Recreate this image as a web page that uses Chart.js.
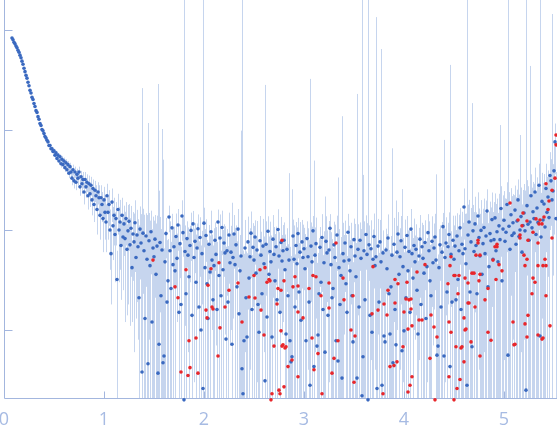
<!DOCTYPE html>
<html lang="en">
<head>
  <meta charset="UTF-8" />
  <title>Scattering curve</title>
  <script src="https://cdn.jsdelivr.net/npm/chart.js"></script>
  <style>
    body {
      margin: 0;
      background: #fff;
    }
    .wrap {
      width: 557px;
      height: 437px;
    }
  </style>
</head>
<body>
  <div class="wrap">
    <canvas id="curve" width="557" height="437"></canvas>
  </div>

  <script>
    // axis ticks
    const xTicks = [0, 1, 2, 3, 4, 5];
    const yTicks = [1, 10, 100, 1000];
    const xMax = 5.53;
    const yMin = 0.204;
    const yMax = 1995;

    // low q, smooth part
    const qGuinier = [0.08,0.09,0.10,0.11,0.12,0.13,0.14,0.15,0.16,0.17,
      0.18,0.19,0.20,0.21,0.22,0.23,0.24,0.25,0.26,0.27,
      0.28,0.29,0.30,0.31,0.32,0.33,0.34,0.35,0.36,0.37,0.38,0.39];
    const iGuinier = [832,800,752,727,690,664,628,600,560,528,
      488,455,414,383,352,330,300,277,249,234,
      212,202,184,172,156,150,136,128,116,111,101,98];
    const eGuinier = [14,12,10,9,9,8,8,8,7,7,
      7,6,6,6,6,5,5,5,5,4,
      4,4,4,4,3,3,3,3,3,3,3,3];

    // middle part
    const qMid = [0.40,0.41,0.42,0.43,0.44,0.45,0.46,0.47,0.48,0.49,
      0.50,0.51,0.52,0.53,0.54,0.55,0.56,0.57,0.58,0.59,
      0.60,0.61,0.62,0.63,0.64,0.65,0.66,0.67,0.68,0.69,
      0.70,0.71,0.72,0.73,0.74,0.75,0.76,0.77,0.78,0.79,
      0.80,0.81,0.82,0.83,0.84,0.85,0.86,0.87,0.88,0.89,
      0.90,0.91,0.92,0.93,0.94,0.95,0.96,0.97,0.98,0.99,
      1.00,1.01,1.02,1.03,1.04,1.05,1.06,1.07,1.08,1.09,
      1.10,1.11,1.12,1.13,1.14,1.15,1.16,1.17,1.18,1.19];
    const iMid = [92,86,83,79,76,70,70,65,65,61,
      62,56,59,52,56,49,54,46,51,45,
      49,42,47,40,45,37,43,38,33,40,
      31,38,30,36,33,38,27,34,29,32,
      24,32,27,30,22,29,23,28,20,26,
      18,25,22,16,24,21,14,21,18,13,
      20,15,12,22,15,18,10,5.8,19,11,
      14,9,13,3.2,16,10,12,7,14,8.5];
    const eMid = [2,2,2,2,2,2,3,3,3,3,
      3,3,3,3,3,3,3,4,4,4,
      4,4,4,4,4,4,4,5,5,5,
      5,5,5,5,5,5,5,5,6,6,
      6,6,6,6,6,6,6,6,6,6,
      6,6,6,7,6,7,6,7,6,7,
      7,7,6,7,7,7,6,4,7,6,
      7,6,6,3,7,7,8,5,7,6];

    // high q, noisy part
    const qTail = [1.20,1.21,1.22,1.23,1.24,1.25,1.26,1.27,1.28,1.29,
      1.30,1.31,1.32,1.33,1.34,1.35,1.36,1.37,1.38,1.39,
      1.40,1.41,1.42,1.43,1.44,1.45,1.46,1.47,1.48,1.49,
      1.50,1.51,1.52,1.53,1.54,1.55,1.56,1.57,1.58,1.59,
      1.60,1.61,1.62,1.63,1.64,1.65,1.66,1.67,1.68,1.69,
      1.70,1.71,1.72,1.73,1.74,1.75,1.76,1.77,1.78,1.79,
      1.80,1.81,1.82,1.83,1.84,1.85,1.86,1.87,1.88,1.89,
      1.90,1.91,1.92,1.93,1.94,1.95,1.96,1.97,1.98,1.99,
      2.00,2.01,2.02,2.03,2.04,2.05,2.06,2.07,2.08,2.09,
      2.10,2.11,2.12,2.13,2.14,2.15,2.16,2.17,2.18,2.19,
      2.20,2.21,2.22,2.23,2.24,2.25,2.26,2.27,2.28,2.29,
      2.30,2.31,2.32,2.33,2.34,2.35,2.36,2.37,2.38,2.39,
      2.40,2.41,2.42,2.43,2.44,2.45,2.46,2.47,2.48,2.49,
      2.50,2.51,2.52,2.53,2.54,2.55,2.56,2.57,2.58,2.59,
      2.60,2.61,2.62,2.63,2.64,2.65,2.66,2.67,2.68,2.69,
      2.70,2.71,2.72,2.73,2.74,2.75,2.76,2.77,2.78,2.79,
      2.80,2.81,2.82,2.83,2.84,2.85,2.86,2.87,2.88,2.89,
      2.90,2.91,2.92,2.93,2.94,2.95,2.96,2.97,2.98,2.99,
      3.00,3.01,3.02,3.03,3.04,3.05,3.06,3.07,3.08,3.09,
      3.10,3.11,3.12,3.13,3.14,3.15,3.16,3.17,3.18,3.19,
      3.20,3.21,3.22,3.23,3.24,3.25,3.26,3.27,3.28,3.29,
      3.30,3.31,3.32,3.33,3.34,3.35,3.36,3.37,3.38,3.39,
      3.40,3.41,3.42,3.43,3.44,3.45,3.46,3.47,3.48,3.49,
      3.50,3.51,3.52,3.53,3.54,3.55,3.56,3.57,3.58,3.59,
      3.60,3.61,3.62,3.63,3.64,3.65,3.66,3.67,3.68,3.69,
      3.70,3.71,3.72,3.73,3.74,3.75,3.76,3.77,3.78,3.79,
      3.80,3.81,3.82,3.83,3.84,3.85,3.86,3.87,3.88,3.89,
      3.90,3.91,3.92,3.93,3.94,3.95,3.96,3.97,3.98,3.99,
      4.00,4.01,4.02,4.03,4.04,4.05,4.06,4.07,4.08,4.09,
      4.10,4.11,4.12,4.13,4.14,4.15,4.16,4.17,4.18,4.19,
      4.20,4.21,4.22,4.23,4.24,4.25,4.26,4.27,4.28,4.29,
      4.30,4.31,4.32,4.33,4.34,4.35,4.36,4.37,4.38,4.39,
      4.40,4.41,4.42,4.43,4.44,4.45,4.46,4.47,4.48,4.49,
      4.50,4.51,4.52,4.53,4.54,4.55,4.56,4.57,4.58,4.59,
      4.60,4.61,4.62,4.63,4.64,4.65,4.66,4.67,4.68,4.69,
      4.70,4.71,4.72,4.73,4.74,4.75,4.76,4.77,4.78,4.79,
      4.80,4.81,4.82,4.83,4.84,4.85,4.86,4.87,4.88,4.89,
      4.90,4.91,4.92,4.93,4.94,4.95,4.96,4.97,4.98,4.99,
      5.00,5.01,5.02,5.03,5.04,5.05,5.06,5.07,5.08,5.09,
      5.10,5.11,5.12,5.13,5.14,5.15,5.16,5.17,5.18,5.19,
      5.20,5.21,5.22,5.23,5.24,5.25,5.26,5.27,5.28,5.29,
      5.30,5.31,5.32,5.33,5.34,5.35,5.36,5.37,5.38,5.39,
      5.40,5.41,5.42,5.43,5.44,5.45,5.46,5.47,5.48,5.49,
      5.50,5.51,5.52];
    const iTail = [11.5,8.2,13,6.4,9.8,12.2,7.1,10.4,4.2,9.1,
      7.6,11.8,5.3,8.9,6.8,2.1,10.2,7.4,0.38,9.3,
      6.2,1.3,8.7,5.1,0.46,7.8,4.4,9.6,1.2,6.6,
      5.4,8.1,3.6,6.9,0.37,0.72,7.5,2.2,6.3,0.47,
      0.55,4.8,9.2,1.9,3.1,13.5,6.2,2.6,10.5,4.5,
      6.8,3.9,8.6,5.2,11.2,1.5,7.3,1.8,13.8,9.4,
      0.2,6.1,2.3,8.2,5.6,3.4,7.0,9.9,1.4,11.5,
      5.3,7.7,3.0,6.6,10.3,1.7,8.4,1.0,5.8,0.26,
      11.7,4.2,8.8,2.9,1.3,7.2,3.8,9.6,5.0,2.0,
      4.4,7.9,5.7,1.6,12,3.5,8.3,2.2,10.6,4.0,
      7.4,5.9,0.81,6.2,1.9,8.9,4.7,6.0,0.72,5.3,
      9.1,4.5,7.1,2.7,10.2,1.45,3.9,5.5,0.41,0.23,
      0.78,6.6,2.1,0.85,7.6,3.3,5.4,9.3,1.6,6.7,
      5.0,8.5,3.7,6.3,1.8,0.95,7.8,5.6,2.3,6.9,
      4.6,0.31,7.2,1.35,9.7,3.6,6.1,4.8,0.85,8.1,
      5.7,3.1,6.8,2.0,10.1,5.5,1.5,7.5,4.9,6.2,
      7.9,4.0,0.91,6.4,2.2,5.0,0.78,0.48,0.54,8.7,
      5.1,1.7,7.0,4.6,9.2,2.4,6.0,1.25,7.6,5.3,
      6.5,4.1,0.78,8.2,5.4,1.9,0.28,6.9,4.8,9.8,
      0.43,5.6,7.3,0.69,0.89,2.3,6.7,3.0,8.4,1.6,
      4.7,0.60,7.7,5.9,1.4,6.3,10.4,4.5,2.1,2.6,
      7.1,5.3,0.78,8.9,0.49,4.2,1.8,3.5,0.33,5.8,
      4.9,7.4,2.9,1.5,9.5,5.0,3.9,6.8,2.2,0.76,
      8.0,5.5,3.4,0.33,6.4,1.7,7.9,5.2,0.22,0.54,
      6.2,2.0,9.0,5.7,0.2,7.1,1.4,6.5,0.95,5.1,
      8.6,4.4,5.4,0.26,6.9,1.9,7.6,4.8,0.28,5.9,
      0.87,0.76,6.3,4.1,8.3,2.3,0.91,2.7,5.6,0.47,
      7.2,1.6,0.71,6.0,9.1,3.6,5.4,7.8,0.62,4.3,
      0.98,6.7,2.1,8.8,3.9,6.1,1.5,10.2,5.8,3.3,
      7.0,4.8,6.4,2.5,0.91,5.5,8.1,1.8,6.8,5.2,
      3.7,7.5,1.3,4.3,9.4,6.2,3.1,2.2,7.7,4.7,
      6.6,8.5,5.0,0.56,0.69,4.2,7.1,1.7,6.0,10.8,
      0.55,5.3,7.4,2.4,6.8,9.0,0.43,5.7,1.9,7.9,
      5.1,6.9,2.0,8.7,3.2,6.2,10.5,1.6,7.2,5.8,
      17,6.5,4.6,0.28,8.9,12,2.4,7.6,0.68,9.8,
      6.1,11.5,7.0,2.3,13.8,8.4,5.5,9.9,3.6,7.3,
      10.6,5.8,8.7,15.5,2.7,4.3,9.2,7.8,12.7,5.1,
      8.0,13.2,6.2,9.6,4.8,11.0,8.0,16.4,3.1,10.2,
      12.5,7.7,9.5,18,0.56,10.9,6.4,14.2,8.8,11.8,
      9.3,15.8,7.2,12.3,20,8.6,10.0,13.6,6.0,11.1,
      14.8,9.8,0.25,17.5,11.4,7.9,12,22,10.5,15.2,
      13.0,24,9.0,16.6,11.9,28,0.87,8.5,19.3,12.6,
      18.2,10.7,26,15.0,21.4,13.3,35,31,20,24.5,
      39,76,13];
    const eTail = [6,7,6,5,8,6,6,7,3,6,
      7,8,4,7,6,9,7,7,262,7,
      8,7,6,9,117,7,8,6,9,7,
      7,6,8,7,288,24,6,8,96,50,
      6,5,4,6,5,4,6,5,4,6,
      4,5,6,4,5,6,4,5,6,4,
      3000,5,6,4,5,6,4,5,6,4,
      5,4,6,5,4,6,5,6,4,3000,
      5,6,4,5,6,4,5,6,4,5,
      6,4,5,6,4,5,6,4,5,6,
      4,5,6,4,5,6,4,5,18,4,
      5,6,4,5,6,4,5,93,3000,6,
      5,6,4,5,6,4,5,6,4,5,
      6,4,5,6,4,5,6,4,5,6,
      4,282,5,6,4,5,6,4,5,6,
      5,6,4,5,6,4,5,6,4,5,
      4,5,6,4,5,32,6,5,25,4,
      6,4,5,6,4,5,6,4,5,6,
      4,5,6,4,5,6,324,5,6,4,
      49,5,6,4,5,6,4,5,6,4,
      5,21,6,4,5,6,4,5,6,4,
      5,6,4,5,33,6,4,5,137,6,
      4,5,6,4,5,6,4,5,6,4,
      5,6,4,229,5,6,4,5,3000,35,
      6,4,5,6,3000,4,5,6,4,5,
      6,4,1340,5,6,4,5,640,6,4,
      5,6,4,5,6,4,5,6,60,5,
      6,4,19,5,6,4,5,6,25,4,
      5,6,4,5,6,4,5,6,4,5,
      6,4,5,6,4,5,6,4,5,6,
      4,5,6,4,5,6,4,5,6,4,
      5,6,31,4,5,6,4,5,6,4,
      79,5,6,4,5,6,447,4,5,6,
      6,7,8,6,7,8,6,7,8,6,
      9,8,10,3000,9,8,10,9,185,8,
      9,10,8,9,10,8,9,10,8,9,
      10,9,11,10,9,11,10,9,11,10,
      11,10,12,11,10,12,104,11,10,12,
      12,13,11,12,3000,13,11,12,13,11,
      13,12,14,13,12,14,79,13,12,14,
      14,15,3000,14,16,15,425,14,16,15,
      16,18,15,17,16,18,3000,15,18,17,
      18,17,20,19,18,21,25,20,1425,21,
      30,40,25];

    // red points
    const qRed = [1.49,1.71,1.74,1.77,1.82,1.84,1.85,1.86,1.92,1.94,
      2.02,2.03,2.04,2.07,2.08,2.09,2.14,2.15,2.16,2.21,
      2.25,2.34,2.38,2.45,2.50,2.51,2.56,2.57,2.60,2.61,
      2.63,2.65,2.66,2.67,2.68,2.70,2.73,2.74,2.75,2.76,
      2.77,2.77,2.78,2.78,2.79,2.80,2.80,2.81,2.82,2.84,
      2.88,2.89,2.91,2.94,2.94,2.94,2.99,3.05,3.08,3.09,
      3.10,3.12,3.14,3.17,3.18,3.25,3.25,3.28,3.30,3.32,
      3.34,3.39,3.40,3.47,3.49,3.50,3.51,3.68,3.69,3.74,
      3.79,3.80,3.83,3.84,3.86,3.90,3.91,3.91,3.93,3.94,
      3.99,4.00,4.02,4.03,4.04,4.04,4.05,4.06,4.07,4.07,
      4.08,4.08,4.13,4.15,4.18,4.21,4.26,4.27,4.30,4.31,
      4.33,4.44,4.45,4.45,4.46,4.47,4.47,4.50,4.50,4.51,
      4.52,4.53,4.54,4.55,4.56,4.57,4.58,4.60,4.60,4.61,
      4.61,4.62,4.64,4.64,4.65,4.67,4.68,4.70,4.71,4.72,
      4.74,4.74,4.75,4.76,4.76,4.76,4.81,4.84,4.84,4.87,
      4.89,4.91,4.92,4.93,4.93,4.95,4.98,5.06,5.09,5.10,
      5.11,5.14,5.16,5.16,5.18,5.19,5.20,5.21,5.21,5.23,
      5.23,5.23,5.24,5.24,5.28,5.29,5.29,5.31,5.32,5.34,
      5.34,5.34,5.35,5.36,5.38,5.38,5.39,5.39,5.40,5.41,
      5.42,5.42,5.42,5.44,5.45,5.46,5.48,5.48,5.51,5.52,
      5.52];
    const iRed = [5.0,2.7,2.1,0.38,4.0,0.35,0.78,0.42,0.83,0.37,
      1.58,1.32,2.8,4.1,1.7,1.62,0.55,4.7,1.05,1.7,
      2.5,2.95,1.2,2.14,3.5,2.09,4.0,1.58,0.89,4.2,
      3.0,3.2,3.1,0.2,0.23,0.69,1.82,2.6,0.25,0.23,
      0.98,2.5,0.69,7.9,0.71,3.1,0.27,0.66,0.68,0.43,
      0.5,2.7,3.4,2.75,1.51,0.34,1.32,2.6,0.83,3.5,
      0.4,3.4,0.58,2.2,0.23,2.95,1.66,0.37,0.52,7.4,
      0.78,3.3,2.0,1.0,2.2,0.3,0.87,1.45,4.3,1.58,
      0.23,1.82,1.41,2.5,0.43,0.44,3.2,1.86,0.48,2.9,
      0.68,1.51,2.04,3.0,0.24,1.02,2.0,0.28,2.04,1.62,
      0.34,1.1,3.8,1.26,1.26,4.5,0.52,1.41,1.07,0.2,
      0.85,2.9,0.34,1.2,4.4,0.95,5.4,0.2,3.5,3.5,
      0.68,0.26,2.3,3.5,0.32,0.66,0.68,0.48,1.32,1.0,
      3.3,1.02,1.86,2.95,1.86,0.76,3.7,3.7,1.7,5.6,
      7.9,7.4,3.1,0.55,5.6,3.6,2.0,0.95,2.6,0.79,
      5.0,6.8,3.2,6.8,7.2,4.5,3.9,18.6,1.2,0.71,
      0.72,12.6,8.9,8.3,11,14.8,5.6,4.4,1.15,12.3,
      5.1,0.85,1.4,7.9,2.3,9.5,3.3,3.0,12.9,0.89,
      4.4,7.4,11.5,12.6,11.5,0.81,0.83,4.4,13.5,5.1,
      29,2.2,4.4,16,19.5,1.1,25,8.3,33,89,
      71];

    const blueQ = [...qGuinier, ...qMid, ...qTail];
    const blueI = [...iGuinier, ...iMid, ...iTail];
    const blueE = [...eGuinier, ...eMid, ...eTail];

    const axisColor = '#a3b6de';
    const barColor = '#c6d5ee';

    // vertical error bars and the axis lines, through the chart scales
    const errorBars = {
      id: 'errorBars',
      beforeDatasetsDraw(chart) {
        const { ctx, chartArea: a, scales: { x, y } } = chart;
        ctx.save();
        ctx.beginPath();
        ctx.rect(a.left, a.top, a.right - a.left, a.bottom - a.top);
        ctx.clip();
        ctx.strokeStyle = barColor;
        ctx.lineWidth = 1;
        ctx.beginPath();
        blueQ.forEach((q, i) => {
          const px = Math.round(x.getPixelForValue(q)) + 0.5;
          const lo = blueI[i] - blueE[i];
          const top = y.getPixelForValue(blueI[i] + blueE[i]);
          const bot = lo > 0 ? y.getPixelForValue(lo) : a.bottom;
          ctx.moveTo(px, top);
          ctx.lineTo(px, bot);
        });
        ctx.stroke();
        ctx.restore();

        const left = Math.round(a.left) + 0.5;
        const bottom = Math.round(a.bottom) - 0.5;
        ctx.save();
        ctx.strokeStyle = axisColor;
        ctx.lineWidth = 1;
        ctx.beginPath();
        ctx.moveTo(left, a.top);
        ctx.lineTo(left, bottom);
        ctx.lineTo(a.right, bottom);
        yTicks.forEach(v => {
          const py = Math.round(y.getPixelForValue(v)) + 0.5;
          ctx.moveTo(left, py);
          ctx.lineTo(left + 8, py);
        });
        xTicks.forEach(v => {
          if (v === 0) return;
          const px = Math.round(x.getPixelForValue(v)) + 0.5;
          ctx.moveTo(px, bottom);
          ctx.lineTo(px, bottom - 7);
        });
        ctx.stroke();
        ctx.restore();
      }
    };

    new Chart(document.getElementById('curve').getContext('2d'), {
      type: 'scatter',
      data: {
        datasets: [
          {
            label: 'negative',
            data: qRed.map((q, i) => ({ x: q, y: iRed[i] })),
            backgroundColor: '#e8262b',
            borderWidth: 0,
            pointRadius: 1.8,
            clip: false,
            order: 0
          },
          {
            label: 'intensity',
            data: blueQ.map((q, i) => ({ x: q, y: blueI[i] })),
            backgroundColor: '#3a69c0',
            borderWidth: 0,
            pointRadius: 1.8,
            clip: false,
            order: 1
          }
        ]
      },
      options: {
        responsive: false,
        animation: false,
        layout: {
          autoPadding: false,
          padding: { left: 4, right: 0, top: 0, bottom: 0 }
        },
        plugins: {
          legend: { display: false },
          tooltip: { enabled: false }
        },
        scales: {
          x: {
            type: 'linear',
            min: 0,
            max: xMax,
            border: { display: false },
            grid: { display: false, drawTicks: false },
            afterBuildTicks: s => { s.ticks = xTicks.map(v => ({ value: v })); },
            afterFit: s => {
              s.paddingLeft = 0;
              s.paddingRight = 0;
              s.height = 38;
            },
            ticks: {
              color: '#a7bbe3',
              padding: 10,
              maxRotation: 0,
              autoSkip: false,
              font: { family: 'Open Sans', size: 18 }
            }
          },
          y: {
            type: 'logarithmic',
            display: false,
            min: yMin,
            max: yMax
          }
        }
      },
      plugins: [errorBars]
    });
  </script>
</body>
</html>
